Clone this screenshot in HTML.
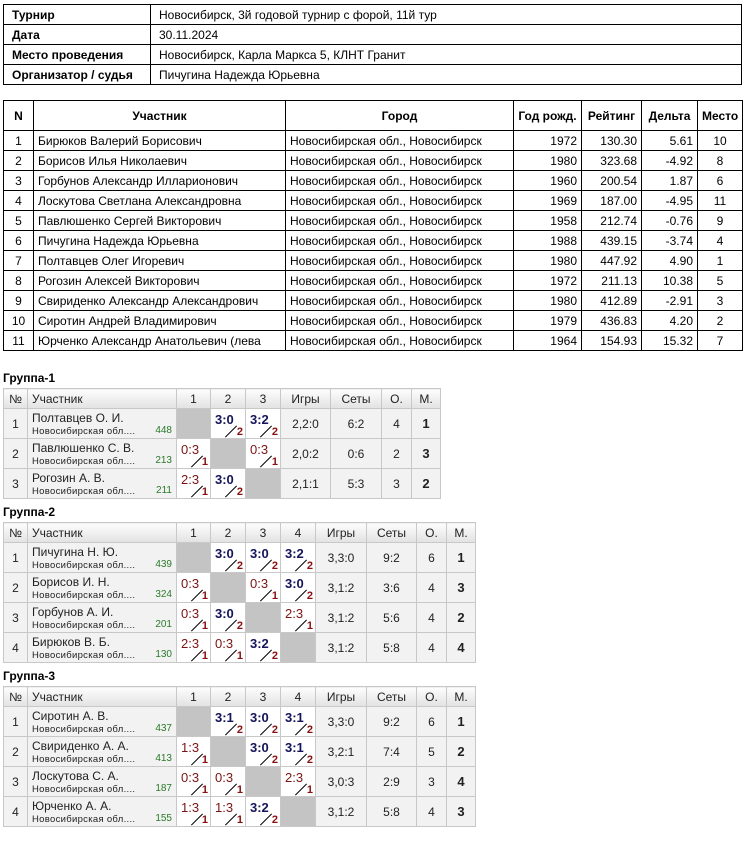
<!DOCTYPE html>
<html><head><meta charset="utf-8"><style>
body{margin:0;width:747px;height:841px;background:#fff;position:relative;font-family:"Liberation Sans",Arial,sans-serif;font-size:12px;color:#000;overflow:hidden}
table{border-collapse:collapse;position:absolute;table-layout:fixed}
.t1{left:3px;top:4px;width:739px}
.t1 td{border:1px solid #000;height:19px;padding:0 0 0 8px}
.t1 td.k{font-weight:bold;width:138px}
.t2{left:3px;top:100px;width:739px}
.t2 td,.t2 th{border:1px solid #000;height:19px;padding:0 4px}
.t2 th{height:29px;font-weight:bold}
.c{text-align:center}.r{text-align:right}
.gl{position:absolute;left:3px;font-weight:bold;font-size:12px}
.g{left:3px;font-size:12px}
.g td,.g th{border:1px solid #c8c8c8;padding:0;background:#f2f2f2}
.g th{height:19px;font-weight:normal;background:linear-gradient(#fdfdfd,#e2e2e2);color:#222}
.g th.lft{text-align:left;padding-left:4px}
.g td{height:29px;text-align:center;color:#222}
.g td.n{text-align:left;padding:0 4px;position:relative}
.n .nm{display:block;font-size:12px;margin-top:1px}
.n .ct{display:block;font-size:9.5px;letter-spacing:0.3px;margin-top:1px}
.n .rt{position:absolute;right:4px;bottom:2px;font-size:10px;color:#2a7a2a}
.g td.x{background:#c4c4c4}
.g td.s{background:#fff}
.sc{position:relative;height:29px}
.sc b{position:absolute;left:4px;top:3px;font-size:13px;font-weight:bold;color:#14145a}
.sc b.l{font-weight:normal;color:#7a1414}
.sc i{position:absolute;left:12px;top:22px;width:16px;border-top:1px solid #000;transform:rotate(-45deg)}
.sc u{position:absolute;right:2px;bottom:0px;font-size:11px;font-weight:bold;color:#8a1010;text-decoration:none}
.m{font-weight:bold;color:#14147a;font-size:13px}
</style></head><body>
<table class="t1">
<tr><td class="k">Турнир</td><td>Новосибирск, 3й годовой турнир с форой, 11й тур</td></tr>
<tr><td class="k">Дата</td><td>30.11.2024</td></tr>
<tr><td class="k">Место проведения</td><td>Новосибирск, Карла Маркса 5, КЛНТ Гранит</td></tr>
<tr><td class="k">Организатор / судья</td><td>Пичугина Надежда Юрьевна</td></tr>
</table>
<table class="t2">
<colgroup><col style="width:30px"><col style="width:252px"><col style="width:228px"><col style="width:68px"><col style="width:60px"><col style="width:56px"><col style="width:45px"></colgroup>
<tr><th>N</th><th>Участник</th><th>Город</th><th>Год рожд.</th><th>Рейтинг</th><th>Дельта</th><th>Место</th></tr>
<tr><td class="c">1</td><td>Бирюков Валерий Борисович</td><td>Новосибирская обл., Новосибирск</td><td class="r">1972</td><td class="r">130.30</td><td class="r">5.61</td><td class="c">10</td></tr>
<tr><td class="c">2</td><td>Борисов Илья Николаевич</td><td>Новосибирская обл., Новосибирск</td><td class="r">1980</td><td class="r">323.68</td><td class="r">-4.92</td><td class="c">8</td></tr>
<tr><td class="c">3</td><td>Горбунов Александр Илларионович</td><td>Новосибирская обл., Новосибирск</td><td class="r">1960</td><td class="r">200.54</td><td class="r">1.87</td><td class="c">6</td></tr>
<tr><td class="c">4</td><td>Лоскутова Светлана Александровна</td><td>Новосибирская обл., Новосибирск</td><td class="r">1969</td><td class="r">187.00</td><td class="r">-4.95</td><td class="c">11</td></tr>
<tr><td class="c">5</td><td>Павлюшенко Сергей Викторович</td><td>Новосибирская обл., Новосибирск</td><td class="r">1958</td><td class="r">212.74</td><td class="r">-0.76</td><td class="c">9</td></tr>
<tr><td class="c">6</td><td>Пичугина Надежда Юрьевна</td><td>Новосибирская обл., Новосибирск</td><td class="r">1988</td><td class="r">439.15</td><td class="r">-3.74</td><td class="c">4</td></tr>
<tr><td class="c">7</td><td>Полтавцев Олег Игоревич</td><td>Новосибирская обл., Новосибирск</td><td class="r">1980</td><td class="r">447.92</td><td class="r">4.90</td><td class="c">1</td></tr>
<tr><td class="c">8</td><td>Рогозин Алексей Викторович</td><td>Новосибирская обл., Новосибирск</td><td class="r">1972</td><td class="r">211.13</td><td class="r">10.38</td><td class="c">5</td></tr>
<tr><td class="c">9</td><td>Свириденко Александр Александрович</td><td>Новосибирская обл., Новосибирск</td><td class="r">1980</td><td class="r">412.89</td><td class="r">-2.91</td><td class="c">3</td></tr>
<tr><td class="c">10</td><td>Сиротин Андрей Владимирович</td><td>Новосибирская обл., Новосибирск</td><td class="r">1979</td><td class="r">436.83</td><td class="r">4.20</td><td class="c">2</td></tr>
<tr><td class="c">11</td><td style="white-space:nowrap;overflow:hidden">Юрченко Александр Анатольевич (лева</td><td>Новосибирская обл., Новосибирск</td><td class="r">1964</td><td class="r">154.93</td><td class="r">15.32</td><td class="c">7</td></tr>
</table>

<div class="gl" style="top:371px">Группа-1</div>
<table class="g" style="top:388px;width:437px">
<colgroup><col style="width:24px"><col style="width:149px"><col style="width:34px"><col style="width:35px"><col style="width:35px"><col style="width:50px"><col style="width:51px"><col style="width:30px"><col style="width:29px"></colgroup>
<tr><th>№</th><th class="lft">Участник</th><th>1</th><th>2</th><th>3</th><th>Игры</th><th>Сеты</th><th>О.</th><th>М.</th></tr>
<tr><td>1</td><td class="n"><span class="nm">Полтавцев О. И.</span><span class="ct">Новосибирская обл....</span><span class="rt">448</span></td><td class="x"></td><td class="s"><div class="sc"><b>3:0</b><i></i><u>2</u></div></td><td class="s"><div class="sc"><b>3:2</b><i></i><u>2</u></div></td><td>2,2:0</td><td>6:2</td><td>4</td><td class="m">1</td></tr>
<tr><td>2</td><td class="n"><span class="nm">Павлюшенко С. В.</span><span class="ct">Новосибирская обл....</span><span class="rt">213</span></td><td class="s"><div class="sc"><b class="l">0:3</b><i></i><u>1</u></div></td><td class="x"></td><td class="s"><div class="sc"><b class="l">0:3</b><i></i><u>1</u></div></td><td>2,0:2</td><td>0:6</td><td>2</td><td class="m">3</td></tr>
<tr><td>3</td><td class="n"><span class="nm">Рогозин А. В.</span><span class="ct">Новосибирская обл....</span><span class="rt">211</span></td><td class="s"><div class="sc"><b class="l">2:3</b><i></i><u>1</u></div></td><td class="s"><div class="sc"><b>3:0</b><i></i><u>2</u></div></td><td class="x"></td><td>2,1:1</td><td>5:3</td><td>3</td><td class="m">2</td></tr>
</table>

<div class="gl" style="top:505px">Группа-2</div>
<table class="g" style="top:522px;width:472px">
<colgroup><col style="width:24px"><col style="width:149px"><col style="width:34px"><col style="width:35px"><col style="width:35px"><col style="width:35px"><col style="width:51px"><col style="width:50px"><col style="width:30px"><col style="width:29px"></colgroup>
<tr><th>№</th><th class="lft">Участник</th><th>1</th><th>2</th><th>3</th><th>4</th><th>Игры</th><th>Сеты</th><th>О.</th><th>М.</th></tr>
<tr><td>1</td><td class="n"><span class="nm">Пичугина Н. Ю.</span><span class="ct">Новосибирская обл....</span><span class="rt">439</span></td><td class="x"></td><td class="s"><div class="sc"><b>3:0</b><i></i><u>2</u></div></td><td class="s"><div class="sc"><b>3:0</b><i></i><u>2</u></div></td><td class="s"><div class="sc"><b>3:2</b><i></i><u>2</u></div></td><td>3,3:0</td><td>9:2</td><td>6</td><td class="m">1</td></tr>
<tr><td>2</td><td class="n"><span class="nm">Борисов И. Н.</span><span class="ct">Новосибирская обл....</span><span class="rt">324</span></td><td class="s"><div class="sc"><b class="l">0:3</b><i></i><u>1</u></div></td><td class="x"></td><td class="s"><div class="sc"><b class="l">0:3</b><i></i><u>1</u></div></td><td class="s"><div class="sc"><b>3:0</b><i></i><u>2</u></div></td><td>3,1:2</td><td>3:6</td><td>4</td><td class="m">3</td></tr>
<tr><td>3</td><td class="n"><span class="nm">Горбунов А. И.</span><span class="ct">Новосибирская обл....</span><span class="rt">201</span></td><td class="s"><div class="sc"><b class="l">0:3</b><i></i><u>1</u></div></td><td class="s"><div class="sc"><b>3:0</b><i></i><u>2</u></div></td><td class="x"></td><td class="s"><div class="sc"><b class="l">2:3</b><i></i><u>1</u></div></td><td>3,1:2</td><td>5:6</td><td>4</td><td class="m">2</td></tr>
<tr><td>4</td><td class="n"><span class="nm">Бирюков В. Б.</span><span class="ct">Новосибирская обл....</span><span class="rt">130</span></td><td class="s"><div class="sc"><b class="l">2:3</b><i></i><u>1</u></div></td><td class="s"><div class="sc"><b class="l">0:3</b><i></i><u>1</u></div></td><td class="s"><div class="sc"><b>3:2</b><i></i><u>2</u></div></td><td class="x"></td><td>3,1:2</td><td>5:8</td><td>4</td><td class="m">4</td></tr>
</table>

<div class="gl" style="top:669px">Группа-3</div>
<table class="g" style="top:686px;width:472px">
<colgroup><col style="width:24px"><col style="width:149px"><col style="width:34px"><col style="width:35px"><col style="width:35px"><col style="width:35px"><col style="width:51px"><col style="width:50px"><col style="width:30px"><col style="width:29px"></colgroup>
<tr><th>№</th><th class="lft">Участник</th><th>1</th><th>2</th><th>3</th><th>4</th><th>Игры</th><th>Сеты</th><th>О.</th><th>М.</th></tr>
<tr><td>1</td><td class="n"><span class="nm">Сиротин А. В.</span><span class="ct">Новосибирская обл....</span><span class="rt">437</span></td><td class="x"></td><td class="s"><div class="sc"><b>3:1</b><i></i><u>2</u></div></td><td class="s"><div class="sc"><b>3:0</b><i></i><u>2</u></div></td><td class="s"><div class="sc"><b>3:1</b><i></i><u>2</u></div></td><td>3,3:0</td><td>9:2</td><td>6</td><td class="m">1</td></tr>
<tr><td>2</td><td class="n"><span class="nm">Свириденко А. А.</span><span class="ct">Новосибирская обл....</span><span class="rt">413</span></td><td class="s"><div class="sc"><b class="l">1:3</b><i></i><u>1</u></div></td><td class="x"></td><td class="s"><div class="sc"><b>3:0</b><i></i><u>2</u></div></td><td class="s"><div class="sc"><b>3:1</b><i></i><u>2</u></div></td><td>3,2:1</td><td>7:4</td><td>5</td><td class="m">2</td></tr>
<tr><td>3</td><td class="n"><span class="nm">Лоскутова С. А.</span><span class="ct">Новосибирская обл....</span><span class="rt">187</span></td><td class="s"><div class="sc"><b class="l">0:3</b><i></i><u>1</u></div></td><td class="s"><div class="sc"><b class="l">0:3</b><i></i><u>1</u></div></td><td class="x"></td><td class="s"><div class="sc"><b class="l">2:3</b><i></i><u>1</u></div></td><td>3,0:3</td><td>2:9</td><td>3</td><td class="m">4</td></tr>
<tr><td>4</td><td class="n"><span class="nm">Юрченко А. А.</span><span class="ct">Новосибирская обл....</span><span class="rt">155</span></td><td class="s"><div class="sc"><b class="l">1:3</b><i></i><u>1</u></div></td><td class="s"><div class="sc"><b class="l">1:3</b><i></i><u>1</u></div></td><td class="s"><div class="sc"><b>3:2</b><i></i><u>2</u></div></td><td class="x"></td><td>3,1:2</td><td>5:8</td><td>4</td><td class="m">3</td></tr>
</table>
</body></html>
